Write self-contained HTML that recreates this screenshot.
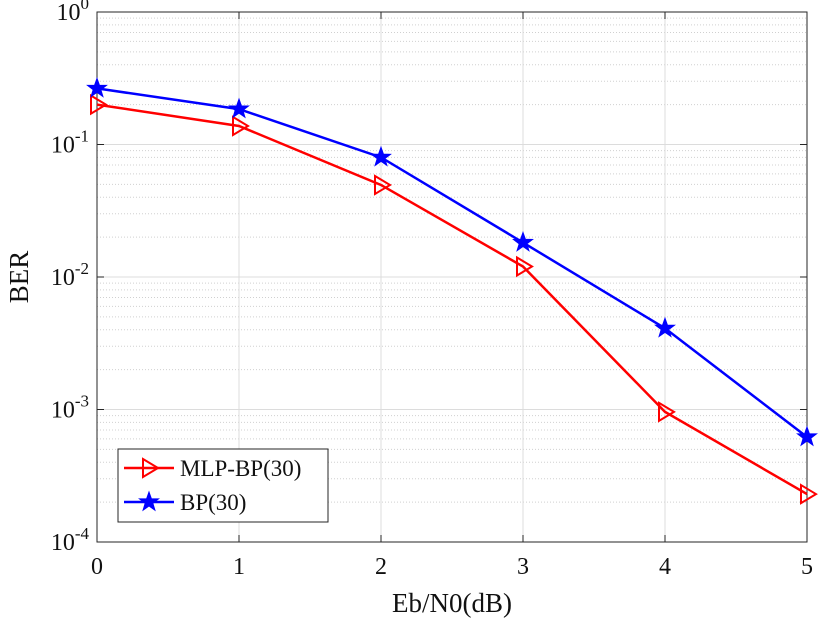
<!DOCTYPE html>
<html><head><meta charset="utf-8"><style>
body{margin:0;background:#fff;}
svg text{font-family:"Liberation Serif",serif;fill:#111;}
</style></head><body>
<svg id="c" width="820" height="621" xmlns="http://www.w3.org/2000/svg"></svg>
<script>
const xCats=[0,1,2,3,4,5];
const mlpBER=[0.2,0.138,0.0495,0.012,0.00096,0.00023];
const bpBER=[0.265,0.185,0.08,0.0182,0.0041,0.00062];
const yDecades=[0,-1,-2,-3,-4];
const L=97,R=807,T=12,B=542;
const NS="http://www.w3.org/2000/svg";
const svg=document.getElementById('c');
function X(v){return L+(v-0)/(5-0)*(R-L);}
function Y(v){return T+(0-Math.log10(v))/4*(B-T);}
function el(t,a,p){const e=document.createElementNS(NS,t);for(const k in a)e.setAttribute(k,a[k]);(p||svg).appendChild(e);return e;}
const grid=el('g',{});


for(let d=-4;d<0;d++){for(let m=2;m<10;m++){const y=Y(m*Math.pow(10,d));el('line',{x1:L,x2:R,y1:y,y2:y,stroke:'#d0d0d0','stroke-width':1,'stroke-dasharray':'1,2'},grid);}}
yDecades.forEach(d=>{const y=Y(Math.pow(10,d));el('line',{x1:L,x2:R,y1:y,y2:y,stroke:'#dcdcdc','stroke-width':1},grid);});
xCats.forEach(v=>{el('line',{x1:X(v),x2:X(v),y1:T,y2:B,stroke:'#dcdcdc','stroke-width':1},grid);});
const ax=el('rect',{x:L,y:T,width:R-L,height:B-T,fill:'none',stroke:'#262626','stroke-width':1});


xCats.forEach(v=>{el('line',{x1:X(v),x2:X(v),y1:B,y2:B-7,stroke:'#262626'});el('line',{x1:X(v),x2:X(v),y1:T,y2:T+7,stroke:'#262626'});
const t=el('text',{x:X(v),y:B+32,'font-size':24,'text-anchor':'middle'});t.textContent=v;

});
yDecades.forEach(d=>{const y=Y(Math.pow(10,d));el('line',{x1:L,x2:L+7,y1:y,y2:y,stroke:'#262626'});el('line',{x1:R,x2:R-7,y1:y,y2:y,stroke:'#262626'});
const t=el('text',{x:L-8,y:y+8,'font-size':24,'text-anchor':'end'});t.innerHTML='10<tspan dy="-11" font-size="17">'+d+'</tspan>';

});
const xt=el('text',{x:(L+R)/2,y:612,'font-size':27,'text-anchor':'middle'});xt.textContent='Eb/N0(dB)';


const yt=el('text',{x:0,y:0,'font-size':27,'text-anchor':'middle',transform:'translate(28,277) rotate(-90)'});yt.textContent='BER';


function tri(g,x,y,c){el('polygon',{points:`${x-6},${y-9} ${x+9},${y} ${x-6},${y+9}`,fill:'none',stroke:c,'stroke-width':2},g);}
function star(g,x,y,c){let p=[];for(let i=0;i<10;i++){const r=i%2?4:10,a=-Math.PI/2+i*Math.PI/5;p.push((x+r*Math.cos(a)).toFixed(1)+','+(y+r*Math.sin(a)).toFixed(1));}el('polygon',{points:p.join(' '),fill:c,stroke:c,'stroke-width':1},g);}
function series(vals,c,mk,name){const g=el('g',{});


el('polyline',{points:vals.map((v,i)=>X(xCats[i])+','+Y(v)).join(' '),fill:'none',stroke:c,'stroke-width':2.5},g);
vals.forEach((v,i)=>mk(g,X(xCats[i]),Y(v),c));}
series(mlpBER,'#ff0000',tri,'series-mlp-bp');
series(bpBER,'#0000ff',star,'series-bp');
const lg=el('g',{});


el('rect',{x:118,y:449,width:210,height:73,fill:'#fff',stroke:'#262626'},lg);
el('line',{x1:124,x2:174,y1:468,y2:468,stroke:'#ff0000','stroke-width':2.5},lg);tri(lg,149,468,'#ff0000');
el('line',{x1:124,x2:174,y1:502,y2:502,stroke:'#0000ff','stroke-width':2.5},lg);star(lg,149,502,'#0000ff');
const l1=el('text',{x:180,y:476,'font-size':23},lg);l1.textContent='MLP-BP(30)';


const l2=el('text',{x:180,y:510,'font-size':23},lg);l2.textContent='BP(30)';


</script>
</body></html>
